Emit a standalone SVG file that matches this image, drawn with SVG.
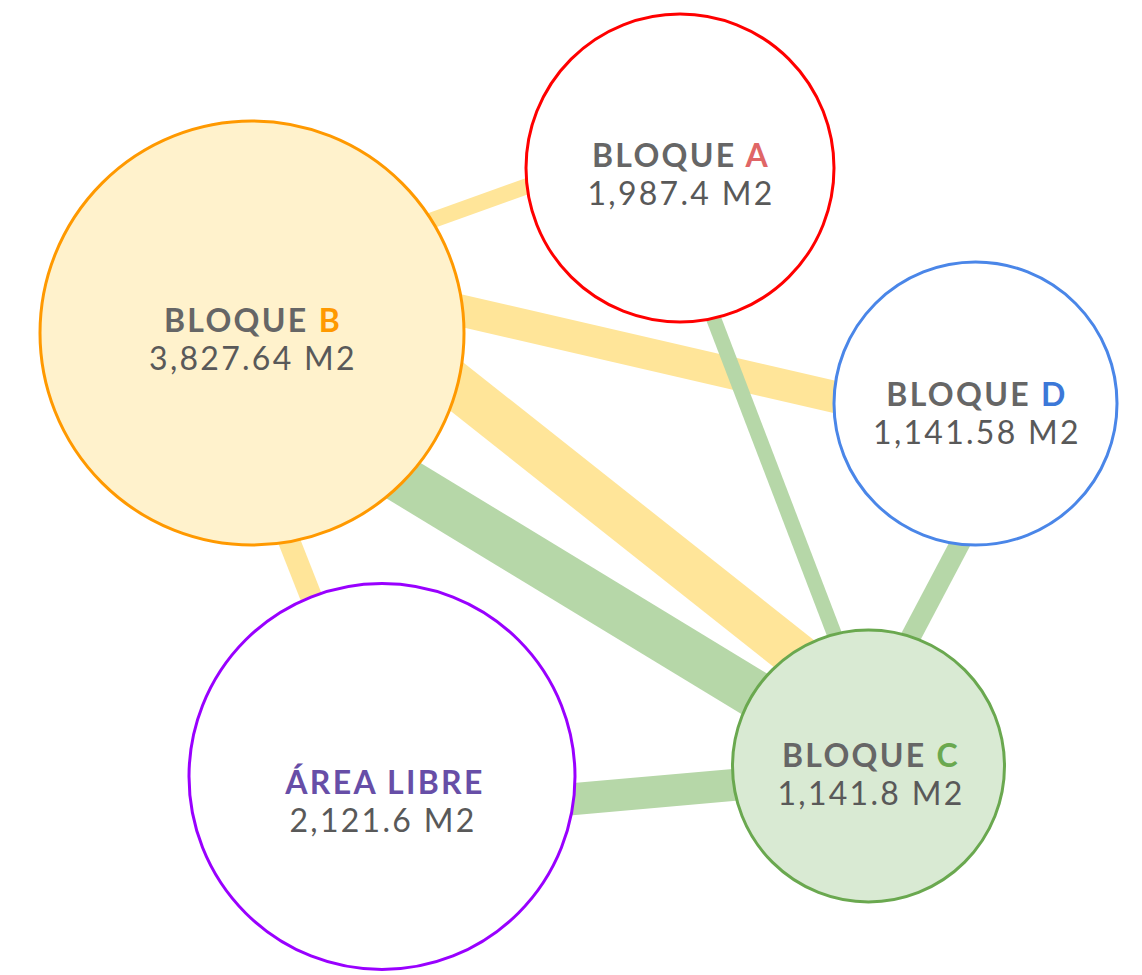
<svg xmlns="http://www.w3.org/2000/svg" width="1142" height="975" viewBox="0 0 1142 975">
<style>
.y{stroke:#FFE599;fill:none}
.g{stroke:#B6D7A8;fill:none}
.n{stroke-width:3}
.t{font-family:Lato,"Liberation Sans",sans-serif;font-size:32px;letter-spacing:2.3px;text-anchor:middle}
.h{font-weight:bold;fill:#666666}
.v{font-weight:normal;fill:#595959}
</style>
<rect width="1142" height="975" fill="#FFFFFF"/>
<g id="connectors">
<line class="y" x1="380" y1="239" x2="600" y2="160" stroke-width="16"/>
<line class="y" x1="400" y1="296.5" x2="900" y2="412" stroke-width="32"/>
<line class="y" x1="350" y1="302" x2="850" y2="698" stroke-width="46"/>
<line class="g" x1="330" y1="436" x2="850" y2="752" stroke-width="48"/>
<line class="g" x1="700" y1="283" x2="850" y2="675" stroke-width="15"/>
<line class="g" x1="983" y1="500" x2="888" y2="680" stroke-width="20"/>
<line class="y" x1="273" y1="500" x2="332" y2="650" stroke-width="22"/>
<line class="g" x1="500" y1="805.6" x2="800" y2="779" stroke-width="32"/>
</g>
<g id="node-a">
<circle class="n" cx="680" cy="168" r="154" fill="#FFFFFF" stroke="#FF0000"/>
<text class="t h" x="681" y="167">BLOQUE <tspan fill="#E06666">A</tspan></text>
<text class="t v" x="681" y="205">1,987.4 M2</text>
</g>
<g id="node-b">
<circle class="n" cx="252" cy="333" r="212" fill="#FFF2CC" stroke="#FF9900"/>
<text class="t h" x="253" y="332">BLOQUE <tspan fill="#FF9900">B</tspan></text>
<text class="t v" x="253" y="370">3,827.64 M2</text>
</g>
<g id="node-d">
<circle class="n" cx="975.5" cy="403.5" r="141.5" fill="#FFFFFF" stroke="#4A86E8"/>
<text class="t h" x="977" y="406">BLOQUE <tspan fill="#3C78D8">D</tspan></text>
<text class="t v" x="977" y="444">1,141.58 M2</text>
</g>
<g id="node-c">
<circle class="n" cx="868.5" cy="766" r="136" fill="#D9EAD3" stroke="#6AA84F"/>
<text class="t h" x="871" y="767">BLOQUE <tspan fill="#6AA84F">C</tspan></text>
<text class="t v" x="871" y="805">1,141.8 M2</text>
</g>
<g id="node-area">
<circle class="n" cx="382" cy="776.5" r="193" fill="#FFFFFF" stroke="#9900FF"/>
<text class="t h" x="385" y="794" style="fill:#674EA7">ÁREA LIBRE</text>
<text class="t v" x="383" y="832">2,121.6 M2</text>
</g>
</svg>
